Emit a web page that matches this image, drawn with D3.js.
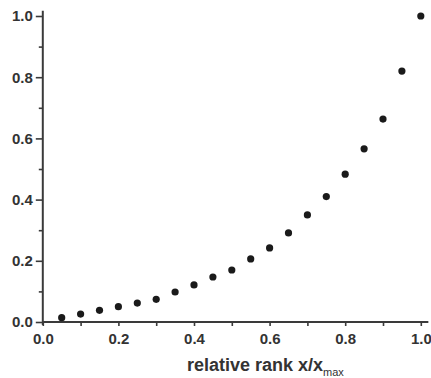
<!DOCTYPE html>
<html>
<head>
<meta charset="utf-8">
<script src="https://cdn.jsdelivr.net/npm/d3@7"></script>
<style>
  html, body { margin: 0; padding: 0; background: #fff; }
  svg { display: block; }
  text { font-family: "Liberation Sans", Arial, sans-serif; font-weight: bold; fill: #333; }
</style>
</head>
<body>
<svg id="chart" width="431" height="378"></svg>
<script>
// relative rank (x / x_max) and normalised value
const rank = [0.05, 0.10, 0.15, 0.20, 0.25, 0.30, 0.35, 0.40, 0.45, 0.50,
              0.55, 0.60, 0.65, 0.70, 0.75, 0.80, 0.85, 0.90, 0.95, 1.00];
const value = [0.014, 0.026, 0.038, 0.050, 0.062, 0.074, 0.098, 0.121, 0.147, 0.170,
               0.206, 0.242, 0.291, 0.350, 0.410, 0.483, 0.566, 0.663, 0.820, 1.000];

const majorTicks = [0, 0.2, 0.4, 0.6, 0.8, 1.0];
const minorTicks = [0.1, 0.3, 0.5, 0.7, 0.9];

const svg = d3.select("#chart");
const axisColor = "#3a3a3a";

const x = d3.scaleLinear().domain([0, 1]).range([42.8, 420.8]);
const y = d3.scaleLinear().domain([0, 1]).range([322, 16]);

const fmt = d3.format(".1f");

// y axis: major ticks with labels, minor ticks without
const yMajor = svg.append("g").attr("transform", `translate(${x(0)},0)`)
  .call(d3.axisLeft(y).tickValues(majorTicks).tickSize(7).tickPadding(3).tickFormat(fmt));
const yMinor = svg.append("g").attr("transform", `translate(${x(0)},0)`)
  .call(d3.axisLeft(y).tickValues(minorTicks).tickSize(4).tickFormat(""));

// x axis
const xMajor = svg.append("g").attr("transform", `translate(0,${y(0)})`)
  .call(d3.axisBottom(x).tickValues(majorTicks).tickSize(4).tickPadding(7).tickFormat(fmt));
const xMinor = svg.append("g").attr("transform", `translate(0,${y(0)})`)
  .call(d3.axisBottom(x).tickValues(minorTicks).tickSize(4).tickFormat(""));

[yMajor, yMinor, xMajor, xMinor].forEach(g => {
  g.select(".domain").remove();
  g.selectAll(".tick line").attr("stroke", axisColor).attr("stroke-width", 1.6);
  g.selectAll(".tick text").attr("font-size", 15).style("fill", "#333");
});

// axis lines, running slightly past the last tick
svg.append("line")
  .attr("x1", x(0)).attr("x2", x(0))
  .attr("y1", y(0) + 3).attr("y2", y(1.017))
  .attr("stroke", axisColor).attr("stroke-width", 2);
svg.append("line")
  .attr("x1", x(0)).attr("x2", x(1.02))
  .attr("y1", y(0)).attr("y2", y(0))
  .attr("stroke", axisColor).attr("stroke-width", 2);

// data points
svg.append("g").selectAll("circle")
  .data(rank.map((r, i) => ({ r, v: value[i] })))
  .join("circle")
  .attr("cx", d => x(d.r))
  .attr("cy", d => y(d.v))
  .attr("r", 3.6)
  .attr("fill", "#1a1a1a");

// x axis title with subscript
const title = svg.append("text")
  .attr("x", 187).attr("y", 371)
  .attr("font-size", 18);
title.append("tspan").text("relative rank x/x");
title.append("tspan").attr("font-size", 11).attr("font-weight", "normal").attr("dy", 5).text("max");
</script>
</body>
</html>
